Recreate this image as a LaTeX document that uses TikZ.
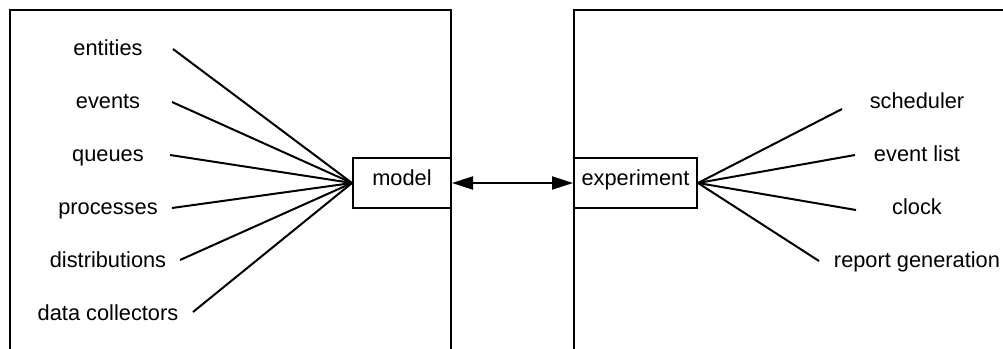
\documentclass[tikz,border=0pt]{standalone}
\usepackage{fontspec}
\setmainfont{Liberation Sans}
\usetikzlibrary{arrows.meta}
\tikzset{
  frame/.style={line width=2pt, line cap=rect},
  inbox/.style={draw, line width=2pt, inner sep=0pt, text height=0.72em, text depth=0.2em,
    font=\fontsize{21.8}{26}\selectfont},
  lbl/.style={anchor=base, inner sep=0pt, font=\fontsize{21.8}{26}\selectfont},
  spoke/.style={line width=2pt},
  biarrow/.style={line width=2pt, {Triangle[length=21pt,width=13pt]}-{Triangle[length=21pt,width=13pt]}}
}
\begin{document}
\begin{tikzpicture}[x=1pt,y=-1pt]
\useasboundingbox (0,0) rectangle (1003,348);
% containers
\draw[frame] (10,350) -- (10,10) -- (451,10) -- (451,350);
\draw[frame] (574,350) -- (574,10) -- (1005,10);
% boxes
\node[inbox, minimum width=98pt, minimum height=50pt] (model) at (402,183) {model};
\node[inbox, minimum width=123pt, minimum height=50pt] (exp) at (635.5,183) {experiment};
\draw[biarrow] (model.east) -- (exp.west);
% left labels
\node[lbl] (l1) at (108,55) {entities};
\node[lbl] (l2) at (108,108) {events};
\node[lbl] (l3) at (108,161) {queues};
\node[lbl] (l4) at (108,214) {processes};
\node[lbl] (l5) at (108,267) {distributions};
\node[lbl] (l6) at (108,320) {data collectors};
\coordinate (c1) at (173,49);
\coordinate (c2) at (172,102);
\coordinate (c3) at (170,155);
\coordinate (c4) at (172,208);
\coordinate (c5) at (180,260);
\coordinate (c6) at (193,312);
\foreach \i in {1,...,6} \draw[spoke] (c\i) -- (model.west);
% right labels
\node[lbl] (r1) at (917,108) {scheduler};
\node[lbl] (r2) at (917,161) {event list};
\node[lbl] (r3) at (917,214) {clock};
\node[lbl] (r4) at (917,267) {report generation};
\coordinate (d1) at (842,109);
\coordinate (d2) at (855,155);
\coordinate (d3) at (856,210);
\coordinate (d4) at (819,261);
\foreach \i in {1,...,4} \draw[spoke] (d\i) -- (exp.east);
\end{tikzpicture}
\end{document}
